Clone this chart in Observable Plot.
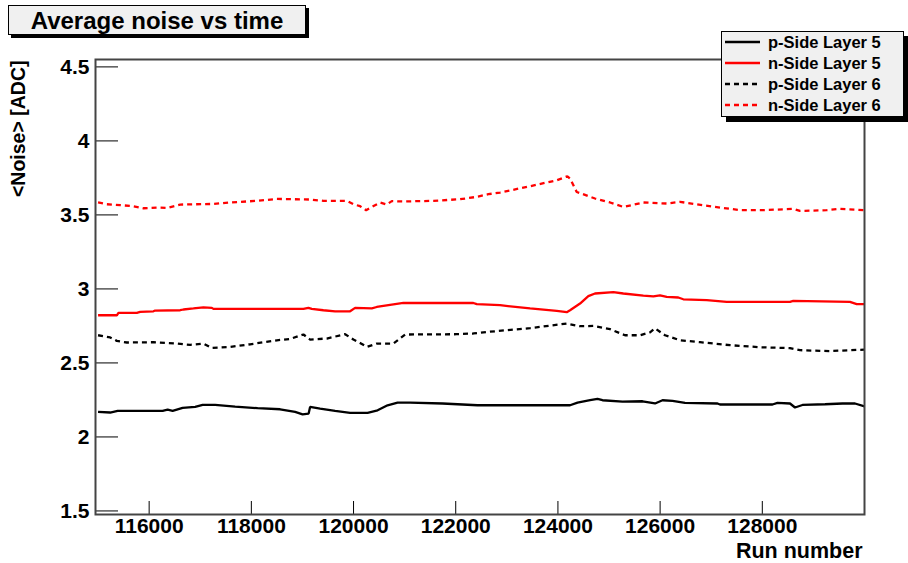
<!DOCTYPE html>
<html><head><meta charset="utf-8">
<script src="https://cdn.jsdelivr.net/npm/d3@7"></script>
<script src="https://cdn.jsdelivr.net/npm/@observablehq/plot@0.6"></script>
<style>
body{margin:0;background:#fff;font-family:"Liberation Sans",Arial,sans-serif;font-weight:bold;color:#000}
#wrap{position:relative;width:908px;height:563px;overflow:hidden}
#wrap > svg{position:absolute;left:0;top:0}
#title{position:absolute;left:8px;top:5px;width:296px;height:28px;background:#f0f0f0;border:1px solid #000;box-shadow:3px 3px 0 #000;font-size:24px;text-align:center;line-height:29px;z-index:2}
#legend{position:absolute;left:721px;top:31px;width:181px;height:84px;background:#f0f0f0;border:1px solid #000;box-shadow:5px 5px 0 #000;font-size:16.5px;z-index:2}
.row{position:absolute;left:3px;height:20px;display:flex;align-items:center;white-space:nowrap}
.row svg{display:block;margin-right:8px}
</style></head>
<body>
<div id="wrap">
  <div id="title"></div>
  <div id="legend"></div>
</div>
<script>
const chartTitle = "Average noise vs time";
const xTitle = "Run number";
const yTitle = "<Noise> [ADC]";
const xTicks = [116000, 118000, 120000, 122000, 124000, 126000, 128000];
const yTicks = [1.5, 2, 2.5, 3, 3.5, 4, 4.5];
const seriesNames = ["p-Side Layer 5", "n-Side Layer 5", "p-Side Layer 6", "n-Side Layer 6"];
const seriesColors = ["#000000", "#ff0000", "#000000", "#ff0000"];
const seriesDashes = [null, null, "5,4", "5,4"];

const pSideL5 = [[115000,2.169],[115237,2.165],[115384,2.176],[116264,2.176],[116362,2.185],[116460,2.176],[116655,2.196],[116900,2.203],[117047,2.216],[117291,2.216],[117683,2.205],[118123,2.194],[118563,2.187],[118857,2.169],[119003,2.153],[119121,2.158],[119150,2.203],[119346,2.192],[119639,2.176],[119933,2.162],[120275,2.162],[120471,2.180],[120666,2.214],[120862,2.232],[121107,2.232],[121743,2.226],[122427,2.214],[124237,2.214],[124384,2.232],[124629,2.248],[124775,2.257],[124873,2.248],[125264,2.239],[125656,2.241],[125900,2.226],[126047,2.248],[126243,2.243],[126487,2.230],[127123,2.226],[127172,2.219],[128199,2.219],[128297,2.230],[128542,2.226],[128640,2.199],[128786,2.216],[129227,2.221],[129569,2.226],[129814,2.226],[130000,2.207]];

const nSideL5 = [[115000,2.822],[115368,2.822],[115399,2.838],[115759,2.838],[115824,2.845],[116084,2.849],[116117,2.854],[116607,2.856],[116671,2.861],[116867,2.868],[117062,2.876],[117227,2.872],[117258,2.865],[119019,2.865],[119117,2.872],[119183,2.865],[119410,2.856],[119639,2.849],[119933,2.849],[120031,2.872],[120357,2.868],[120455,2.878],[120715,2.892],[120976,2.905],[122345,2.905],[122412,2.897],[122868,2.890],[123455,2.868],[123977,2.851],[124173,2.843],[124237,2.856],[124433,2.901],[124595,2.951],[124726,2.969],[125085,2.978],[125280,2.969],[125672,2.955],[125867,2.949],[125998,2.957],[126129,2.946],[126356,2.942],[126454,2.930],[126912,2.924],[127303,2.912],[128542,2.912],[128606,2.919],[129716,2.912],[129847,2.897],[130000,2.897]];

const pSideL6 = [[115000,2.687],[115106,2.680],[115237,2.672],[115368,2.649],[115564,2.638],[116084,2.640],[116542,2.631],[116802,2.622],[117062,2.631],[117227,2.601],[117585,2.608],[117976,2.626],[118499,2.653],[118759,2.662],[119019,2.692],[119150,2.658],[119477,2.665],[119835,2.694],[119997,2.658],[120128,2.635],[120260,2.608],[120455,2.631],[120780,2.631],[121009,2.692],[122020,2.694],[122345,2.699],[122607,2.709],[123455,2.735],[124173,2.766],[124433,2.748],[124693,2.750],[125020,2.728],[125313,2.687],[125607,2.687],[125803,2.707],[125900,2.734],[126096,2.687],[126390,2.653],[126781,2.640],[127368,2.620],[127955,2.606],[128542,2.600],[128737,2.586],[129324,2.580],[129716,2.586],[130000,2.590]];

const nSideL6 = [[115000,3.584],[115172,3.572],[115433,3.566],[115693,3.559],[115888,3.545],[116151,3.550],[116346,3.547],[116607,3.570],[117258,3.574],[117585,3.584],[118107,3.595],[118499,3.608],[119150,3.604],[119410,3.595],[119868,3.595],[119997,3.572],[120128,3.559],[120246,3.532],[120357,3.554],[120520,3.584],[120651,3.570],[120749,3.593],[120976,3.591],[121563,3.595],[122085,3.606],[122412,3.622],[122639,3.640],[122868,3.651],[123455,3.694],[123977,3.734],[124185,3.761],[124237,3.746],[124368,3.655],[124726,3.611],[125020,3.584],[125280,3.554],[125672,3.584],[126129,3.577],[126390,3.588],[126716,3.572],[127172,3.550],[127564,3.532],[128019,3.532],[128606,3.541],[128737,3.527],[129260,3.532],[129520,3.541],[130000,3.532]];

const seriesData = [pSideL5, nSideL5, pSideL6, nSideL6];

const W = 908, H = 563, mL = 95, mR = 44, mT = 59, mB = 49;
const innerW = W - mL - mR, innerH = H - mT - mB;

const lineMarks = seriesData.map((pts, i) => Plot.line(pts, {
  x: d => d[0], y: d => d[1],
  stroke: seriesColors[i], strokeWidth: 2.3,
  strokeDasharray: seriesDashes[i] || undefined,
  strokeLinejoin: "miter", strokeLinecap: "butt"
}));

const chart = Plot.plot({
  width: W, height: H,
  marginLeft: mL, marginRight: mR, marginTop: mT, marginBottom: mB,
  style: {fontFamily: "'Liberation Sans', Arial, sans-serif", fontWeight: "bold", fontSize: "21px", background: "transparent", color: "black", overflow: "visible"},
  x: {domain: [114950, 130000]},
  y: {domain: [1.476, 4.55]},
  marks: [
    Plot.axisY({ticks: yTicks, tickSize: 0, tickPadding: 6, tickFormat: d => String(d), fontSize: 21, label: null}),
    Plot.axisX({ticks: xTicks, tickSize: 0, tickPadding: 4, tickFormat: d => String(d), fontSize: 21, label: null}),
    Plot.text([yTitle], {frameAnchor: "top-left", rotate: -90, textAnchor: "end", lineAnchor: "middle",
      dx: -77, dy: 1, fontSize: 19.5, fontWeight: "bold", fill: "black"}),
    Plot.text([xTitle], {frameAnchor: "bottom-right", textAnchor: "end", lineAnchor: "middle",
      dx: -2, dy: 37, fontSize: 21.5, fontWeight: "bold", fill: "black"}),
    Plot.tickY(yTicks, {y: d => d, stroke: "black", strokeWidth: 1, insetRight: innerW - 23}),
    Plot.tickX(xTicks, {x: d => d, stroke: "black", strokeWidth: 1, insetTop: innerH - 13}),
    ...lineMarks,
    Plot.frame({stroke: "#444", strokeWidth: 2})
  ]
});
document.getElementById("wrap").appendChild(chart);
document.getElementById("title").textContent = chartTitle;

const legend = document.getElementById("legend");
seriesNames.forEach((name, i) => {
  const row = document.createElement("div");
  row.className = "row";
  row.style.top = (i * 21) + "px";
  row.innerHTML = `<svg width="35" height="6"><line x1="0" y1="3" x2="35" y2="3" stroke="${seriesColors[i]}" stroke-width="2.5" ${seriesDashes[i] ? `stroke-dasharray="${seriesDashes[i]}"` : ""}/></svg><span></span>`;
  row.querySelector("span").textContent = name;
  legend.appendChild(row);
});
</script>
</body></html>
